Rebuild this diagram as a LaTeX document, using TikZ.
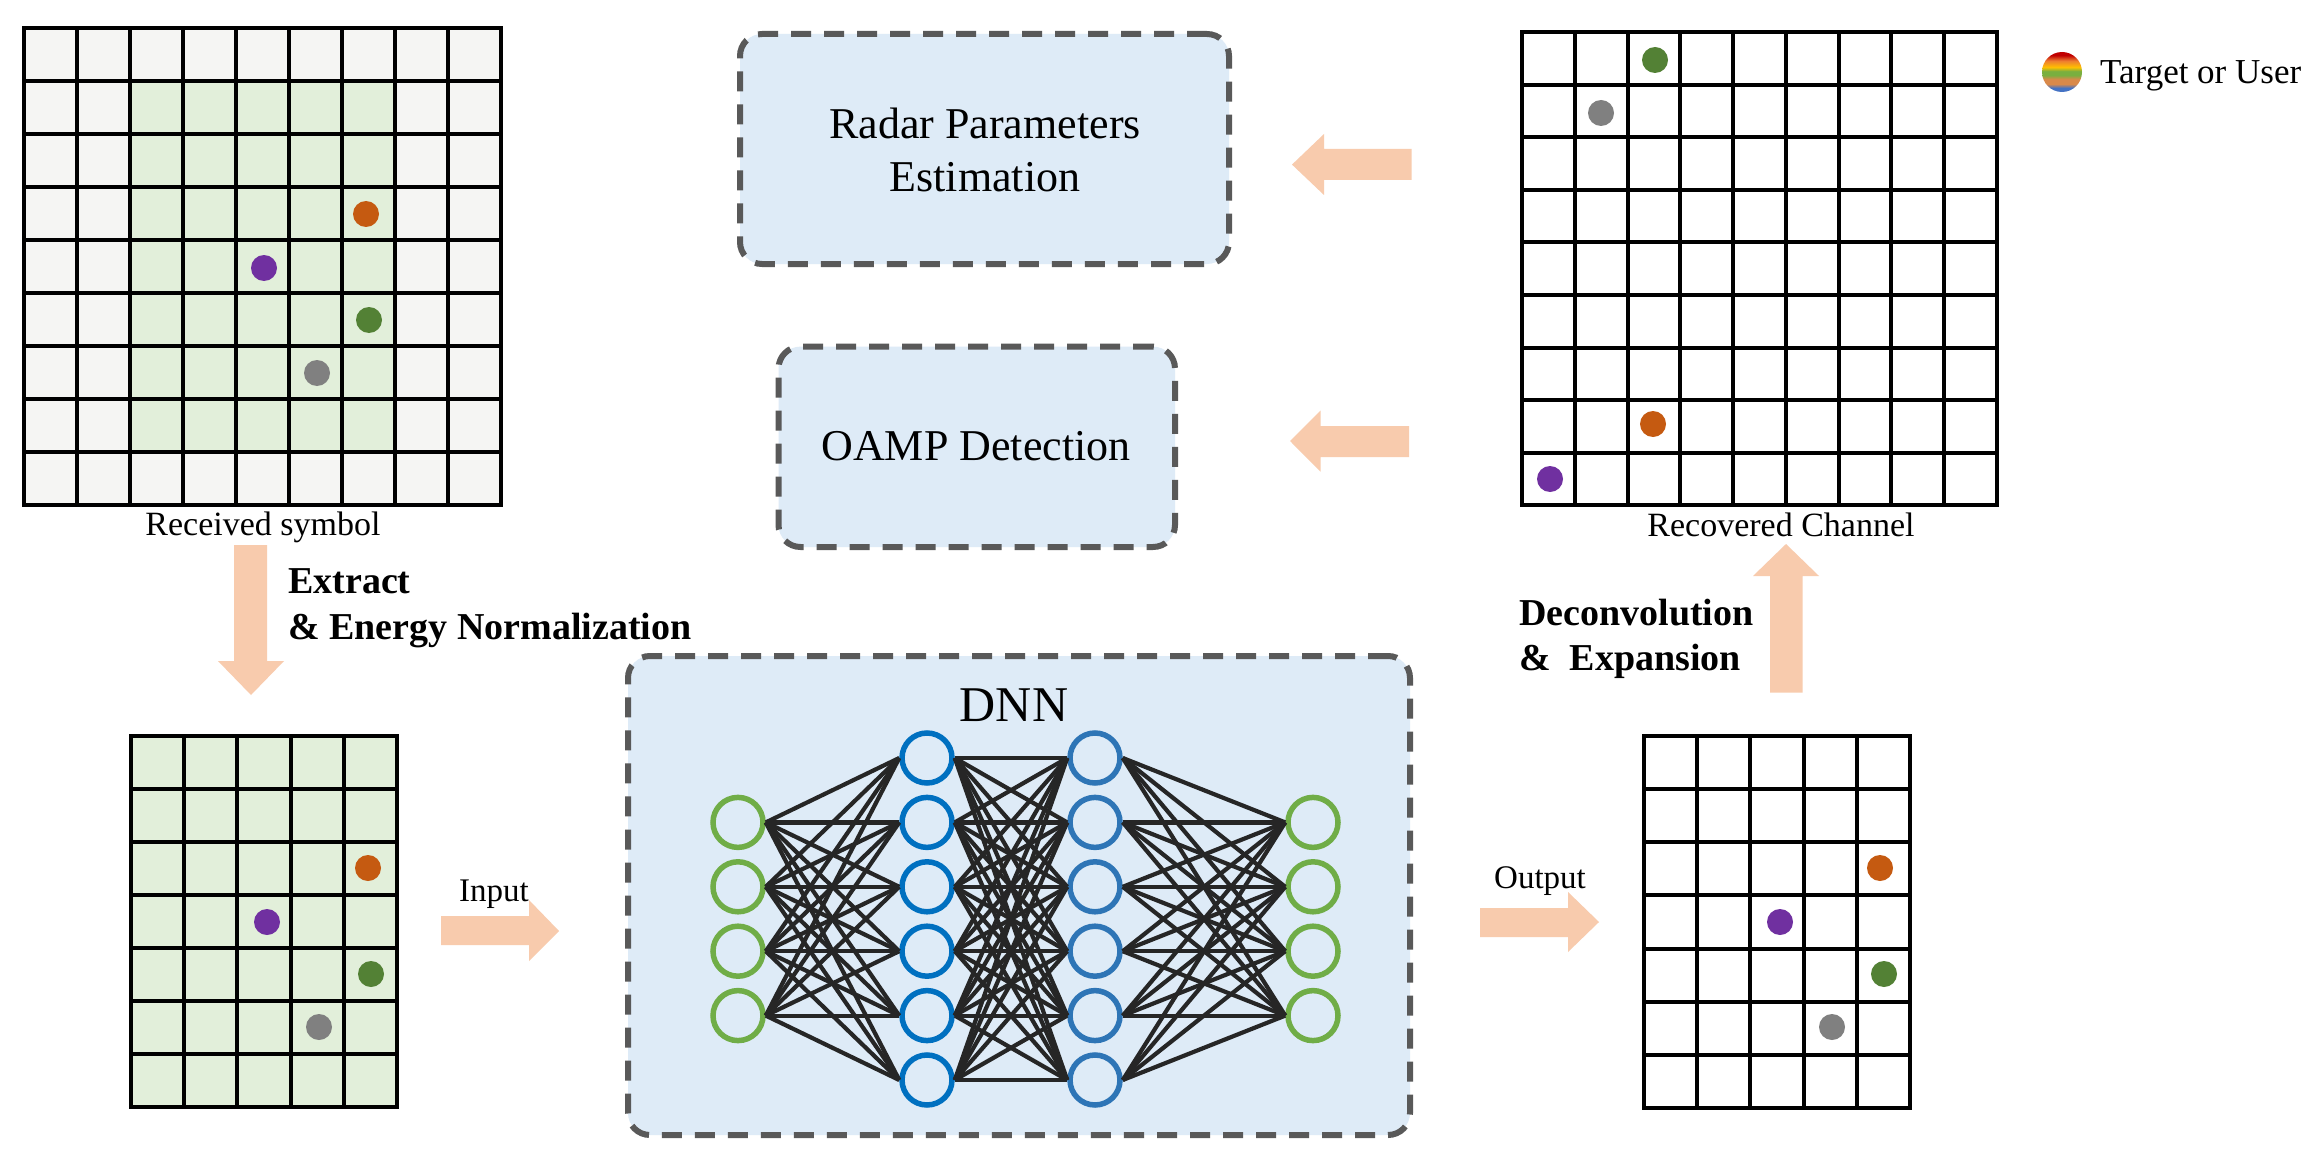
\documentclass[tikz,border=0pt]{standalone}
\usepackage{fontspec}
\setmainfont{Liberation Serif}
\definecolor{peach}{HTML}{F8CBAD}
\definecolor{boxfill}{HTML}{DEEBF7}
\definecolor{dashgray}{HTML}{595959}
\definecolor{cellgreen}{HTML}{E2EFDA}
\definecolor{cellgray}{HTML}{F5F5F3}
\definecolor{dotorange}{HTML}{C55A11}
\definecolor{dotpurple}{HTML}{7030A0}
\definecolor{dotgreen}{HTML}{538135}
\definecolor{dotgray}{HTML}{808080}
\definecolor{neugreen}{HTML}{70AD47}
\definecolor{neublueA}{HTML}{0070C0}
\definecolor{neublueB}{HTML}{2E75B6}
\definecolor{linkgray}{HTML}{262626}
\definecolor{rbBlue}{HTML}{4472C4}
\definecolor{rbTan}{HTML}{D9894A}
\definecolor{rbGreen}{HTML}{7AAF3F}
\definecolor{rbYellow}{HTML}{FFC000}
\definecolor{rbOrange}{HTML}{ED7D31}
\definecolor{rbRed}{HTML}{C00000}
\pgfdeclareverticalshading{rainbowdot}{100bp}{color(0bp)=(rbBlue); color(30bp)=(rbBlue); color(35bp)=(rbTan); color(41bp)=(rbTan); color(46bp)=(rbGreen); color(51bp)=(rbGreen); color(56bp)=(rbYellow); color(64bp)=(rbOrange); color(71bp)=(rbRed); color(100bp)=(rbRed)}
\newcommand{\cellgrid}[6]{%
  % #1 x0, #2 y0, #3 nx, #4 ny, #5 cell w, #6 cell h
  \foreach \gi in {0,...,#3}{\draw[gridline] (#1+\gi*#5,#2) -- (#1+\gi*#5,#2+#4*#6);}
  \foreach \gj in {0,...,#4}{\draw[gridline] (#1,#2+\gj*#6) -- (#1+#3*#5,#2+\gj*#6);}
}
\begin{document}
\begin{tikzpicture}[x=1pt,y=-1pt,
  gridline/.style={line width=4pt,black,line cap=rect},
  dot/.style={circle,inner sep=0pt,minimum size=26pt},
  dashbox/.style={draw=dashgray,fill=boxfill,line width=6pt,dash pattern=on 20pt off 13pt,rounded corners=22pt,inner sep=0pt},
  blockarrow/.style={fill=peach},
  neuron/.style={circle,draw,line width=5.5pt,minimum size=50pt,inner sep=0pt},
  link/.style={draw=linkgray,line width=4.2pt},
  lbl/.style={font=\fontsize{34pt}{40pt}\selectfont,inner sep=0pt},
  iolbl/.style={font=\fontsize{33pt}{40pt}\selectfont,inner sep=0pt},
  boldlbl/.style={font=\fontsize{38pt}{46pt}\selectfont\bfseries,inner sep=0pt},
  boxlbl/.style={font=\fontsize{44pt}{53pt}\selectfont,inner sep=0pt}]
\fill[white] (0,0) rectangle (2324,1161);
\useasboundingbox (0,0) rectangle (2324,1161);

% ---------- top-left grid: received symbol ----------
\fill[cellgray] (24,28) rectangle (501,505);
\fill[cellgreen] (130,81) rectangle (395,452);
\cellgrid{24}{28}{9}{9}{53}{53}
\node[dot,fill=dotorange] (r1) at (366,214) {};
\node[dot,fill=dotpurple] (r2) at (264,268) {};
\node[dot,fill=dotgreen] (r3) at (369,320) {};
\node[dot,fill=dotgray] (r4) at (317,373) {};
\node[lbl,anchor=base] (recvlbl) at (263,535) {Received symbol};

% ---------- top-right grid: recovered channel ----------
\fill[white] (1522,32.5) rectangle (1997,505);
\cellgrid{1522}{32.5}{9}{9}{52.78}{52.5}
\node[dot,fill=dotgreen] (c1) at (1655,60) {};
\node[dot,fill=dotgray] (c2) at (1601,113) {};
\node[dot,fill=dotorange] (c3) at (1653,424) {};
\node[dot,fill=dotpurple] (c4) at (1550,479) {};
\node[lbl,anchor=base] (reclbl) at (1781,536) {Recovered Channel};

% ---------- legend ----------
\shade[shading=rainbowdot] (2062,72) circle (20pt);
\node[lbl,anchor=base west,font=\fontsize{35pt}{40pt}\selectfont] (legend) at (2100,84) {Target or User};

% ---------- bottom-left grid (extracted) ----------
\fill[cellgreen] (131,736) rectangle (397,1107);
\cellgrid{131}{736}{5}{7}{53.2}{53}
\node[dot,fill=dotorange] (e1) at (368,868) {};
\node[dot,fill=dotpurple] (e2) at (267,922) {};
\node[dot,fill=dotgreen] (e3) at (371,974) {};
\node[dot,fill=dotgray] (e4) at (319,1027) {};

% ---------- bottom-right grid (output) ----------
\fill[white] (1644,736) rectangle (1910,1108);
\cellgrid{1644}{736}{5}{7}{53.2}{53.14}
\node[dot,fill=dotorange] (o1) at (1880,868) {};
\node[dot,fill=dotpurple] (o2) at (1780,922) {};
\node[dot,fill=dotgreen] (o3) at (1884,974) {};
\node[dot,fill=dotgray] (o4) at (1832,1027) {};

% ---------- dashed boxes ----------
\node[dashbox,minimum width=489pt,minimum height=230pt] (radar) at (984.5,149) {};
\node[boxlbl,anchor=base] (radar1) at (985,139) {Radar Parameters};
\node[boxlbl,anchor=base] (radar2) at (985,192) {Estimation};
\node[dashbox,minimum width=396.5pt,minimum height=200.4pt] (oamp) at (976.75,446.8) {};
\node[boxlbl,anchor=base] (oamplbl) at (976,460.6) {OAMP Detection};
\node[dashbox,minimum width=782pt,minimum height=479pt] (dnnbox) at (1019,895.5) {};
\node[lbl,anchor=base,font=\fontsize{50pt}{56pt}\selectfont] (dnnlbl) at (1014,721) {DNN};

% ---------- neural network ----------
\foreach \i in {1,...,4}{\pgfmathsetmacro\yy{822.4+64.4*(\i-1)}
  \node[neuron,draw=neugreen] (a\i) at (738,\yy) {};
  \node[neuron,draw=neugreen] (d\i) at (1313,\yy) {};}
\foreach \i in {1,...,6}{\pgfmathsetmacro\yy{758+64.4*(\i-1)}
  \node[neuron,draw=neublueA] (b\i) at (927,\yy) {};
  \node[neuron,draw=neublueB] (c\i) at (1095,\yy) {};}
\foreach \i in {1,...,4}{\foreach \j in {1,...,6}{
  \draw[link] (a\i.east) -- (b\j.west);
  \draw[link] (c\j.east) -- (d\i.west);}}
\foreach \i in {1,...,6}{\foreach \j in {1,...,6}{
  \draw[link] (b\i.east) -- (c\j.west);}}

% ---------- block arrows ----------
\fill[blockarrow] (234,545) -- (267,545) -- (267,661) -- (284,661) -- (251,695) -- (218,661) -- (234,661) -- cycle;
\fill[blockarrow] (1770,692.5) -- (1802.5,692.5) -- (1802.5,576) -- (1819,576) -- (1786,544) -- (1753,576) -- (1770,576) -- cycle;
\fill[blockarrow] (441,916) -- (529,916) -- (529,900) -- (559,931) -- (529,961) -- (529,945) -- (441,945) -- cycle;
\fill[blockarrow] (1480,908) -- (1568,908) -- (1568,892) -- (1599,922) -- (1568,952) -- (1568,937) -- (1480,937) -- cycle;
\fill[blockarrow] (1411.6,149) -- (1324,149) -- (1324,134) -- (1292,164.6) -- (1324,195) -- (1324,180) -- (1411.6,180) -- cycle;
\fill[blockarrow] (1409,426) -- (1320.5,426) -- (1320.5,410.7) -- (1290,441) -- (1320.5,471.7) -- (1320.5,457) -- (1409,457) -- cycle;

% ---------- arrow labels ----------
\node[boldlbl,anchor=base west] (ext1) at (288,593) {Extract};
\node[boldlbl,anchor=base west] (ext2) at (288,639) {\& Energy Normalization};
\node[boldlbl,anchor=base west] (dec1) at (1519,625) {Deconvolution};
\node[boldlbl,anchor=base west] (dec2) at (1519,670) {\&\ \ Expansion};
\node[iolbl,anchor=base west] (inlbl) at (459,901) {Input};
\node[iolbl,anchor=base] (outlbl) at (1540,888) {Output};
\end{tikzpicture}
\end{document}
